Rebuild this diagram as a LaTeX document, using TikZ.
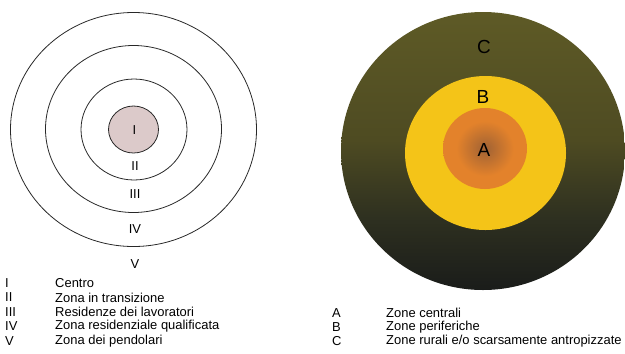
\documentclass[tikz,border=0pt]{standalone}
\usepackage{fontspec}
\setmainfont{Liberation Sans}
\definecolor{ringline}{RGB}{40,40,40}
\definecolor{corefill}{RGB}{220,202,202}
\definecolor{ctop}{RGB}{94,90,38}
\definecolor{cmid}{RGB}{78,75,34}
\definecolor{clow}{RGB}{46,48,32}
\definecolor{cbot}{RGB}{26,28,26}
\definecolor{byellow}{RGB}{244,196,24}
\definecolor{aorange}{RGB}{227,130,43}
\definecolor{adark}{RGB}{160,98,52}
\pgfdeclareverticalshading{zoneC}{100bp}{color(0bp)=(cbot); color(25bp)=(cbot); color(38bp)=(clow); color(52bp)=(cmid); color(75bp)=(ctop); color(100bp)=(ctop)}
\pgfdeclareradialshading{zoneA}{\pgfpoint{0bp}{0bp}}{color(0bp)=(adark); color(17bp)=(aorange); color(25bp)=(aorange); color(50bp)=(aorange)}
\tikzset{
  ring/.style={draw=ringline, line width=0.8pt},
  small/.style={font=\fontsize{13}{15}\selectfont, inner sep=0pt},
  big/.style={font=\fontsize{19}{21}\selectfont, inner sep=0pt},
  legtext/.style={small, anchor=west},
}
\begin{document}
\begin{tikzpicture}[x=1bp,y=-1bp]
\useasboundingbox (0,0) rectangle (625,353);
% left concentric model
\draw[ring] (133.5,129.5) ellipse [x radius=123, y radius=117];
\draw[ring] (133.5,129) ellipse [x radius=88, y radius=83.5];
\draw[ring] (134,129.5) ellipse [x radius=53, y radius=50.5];
\draw[ring, fill=corefill] (133.5,129.5) ellipse [x radius=25, y radius=23.5];
\node[small] (l1) at (134.5,130) {I};
\node[small] (l2) at (135,166) {II};
\node[small] (l3) at (135,194) {III};
\node[small] (l4) at (135,229) {IV};
\node[small] (l5) at (135,264) {V};
% left legend
\node[legtext] (k1) at (5,283) {I};
\node[legtext] (k2) at (5,297.5) {II};
\node[legtext] (k3) at (5,312) {III};
\node[legtext] (k4) at (5,326.5) {IV};
\node[legtext] (k5) at (5,341) {V};
\node[legtext] (t1) at (55,283) {Centro};
\node[legtext] (t2) at (55,297.5) {Zona in transizione};
\node[legtext] (t3) at (55,312) {Residenze dei lavoratori};
\node[legtext] (t4) at (55,326.5) {Zona residenziale qualificata};
\node[legtext] (t5) at (55,341) {Zona dei pendolari};
% right model
\shade[shading=zoneC] (483,151) ellipse [x radius=142, y radius=139];
\fill[byellow] (485.5,153) ellipse [x radius=80.5, y radius=77];
\shade[shading=zoneA] (485,148.5) ellipse [x radius=42, y radius=40.5];
\node[big] (rc) at (484,47) {C};
\node[big] (rb) at (483,97) {B};
\node[big] (ra) at (484,150) {A};
% right legend
\node[legtext] (ka) at (332,313) {A};
\node[legtext] (kb) at (332,327) {B};
\node[legtext] (kc) at (332,341) {C};
\node[legtext] (ta) at (386,313) {Zone centrali};
\node[legtext] (tb) at (386,327) {Zone periferiche};
\node[legtext] (tc) at (386,341) {Zone rurali e/o scarsamente antropizzate};
\end{tikzpicture}
\end{document}
